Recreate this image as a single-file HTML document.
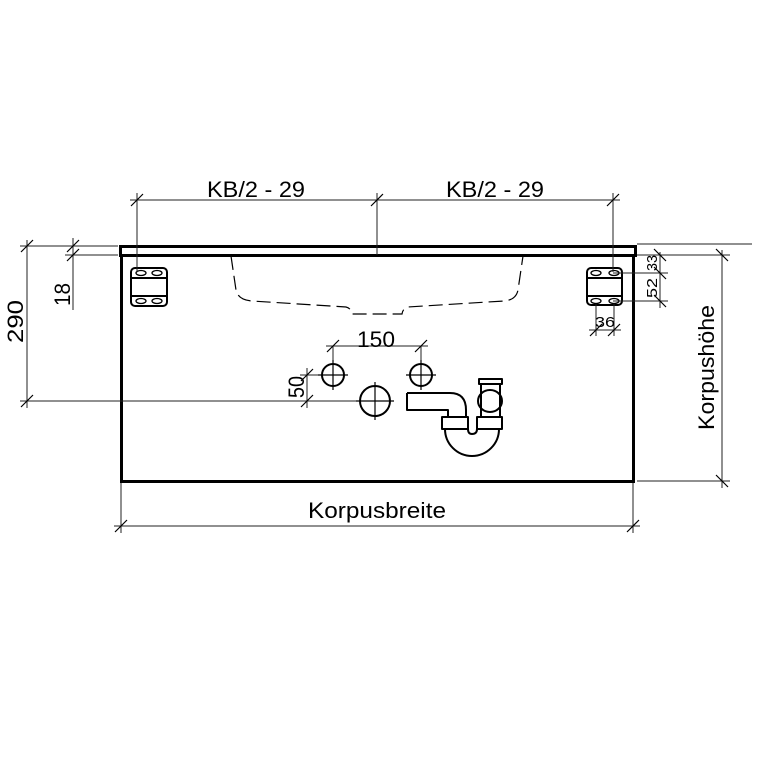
<!DOCTYPE html>
<html><head><meta charset="utf-8"><style>
html,body{margin:0;padding:0;background:#fff}
svg{display:block}
text{font-family:"Liberation Sans",sans-serif;fill:#000}
</style></head><body>
<svg width="769" height="769" viewBox="0 0 769 769" xmlns="http://www.w3.org/2000/svg">
<g fill="none" stroke="#000">
<rect x="120.5" y="246.5" width="515" height="9" stroke-width="3"/>
<path d="M121.5 255 V481.5 H633.5 V255" stroke-width="3"/>
<path d="M231 256 L236 290 Q238 300 252 301 L346 307 Q351 308 352 314 L402 314 Q403 308 408 307 L504 301 Q516 300 518 290 L523 256" stroke-width="1.2" stroke-dasharray="14,6"/>
<g stroke-width="2">
<rect x="131" y="268" width="36" height="38" rx="4"/>
<line x1="132" y1="278" x2="166" y2="278"/><line x1="132" y1="296" x2="166" y2="296"/>
<rect x="587" y="268" width="35" height="37" rx="4"/>
<line x1="588" y1="278" x2="621" y2="278"/><line x1="588" y1="296" x2="621" y2="296"/>
</g>
<g stroke-width="1.3">
<ellipse cx="141" cy="273" rx="5" ry="2.5"/><ellipse cx="157" cy="273" rx="5" ry="2.5"/>
<ellipse cx="141" cy="301" rx="5" ry="2.5"/><ellipse cx="157" cy="301" rx="5" ry="2.5"/>
<ellipse cx="596" cy="273" rx="5" ry="2.5"/><ellipse cx="614" cy="273" rx="5" ry="2.5"/>
<ellipse cx="596" cy="301" rx="5" ry="2.5"/><ellipse cx="614" cy="301" rx="5" ry="2.5"/>
</g>
<g stroke-width="1" stroke="#222">
<line x1="130" y1="200" x2="620" y2="200"/>
<line x1="137" y1="193" x2="137" y2="272"/>
<line x1="377" y1="193" x2="377" y2="255"/>
<line x1="613" y1="193" x2="613" y2="272"/>
<line x1="20" y1="246" x2="118" y2="246"/>
<line x1="20" y1="401" x2="362" y2="401"/>
<line x1="27" y1="240" x2="27" y2="408"/>
<line x1="65" y1="255" x2="118" y2="255"/>
<line x1="73" y1="238" x2="73" y2="310"/>
<line x1="637" y1="244" x2="752" y2="244"/>
<line x1="637" y1="255" x2="730" y2="255"/>
<line x1="637" y1="481" x2="730" y2="481"/>
<line x1="722" y1="250" x2="722" y2="488"/>
<line x1="613" y1="273" x2="668" y2="273"/>
<line x1="613" y1="301" x2="668" y2="301"/>
<line x1="660" y1="252" x2="660" y2="308"/>
<line x1="596" y1="304" x2="596" y2="336"/>
<line x1="614" y1="304" x2="614" y2="336"/>
<line x1="589" y1="330" x2="621" y2="330"/>
<line x1="121" y1="483" x2="121" y2="533"/>
<line x1="633" y1="483" x2="633" y2="533"/>
<line x1="114" y1="526" x2="640" y2="526"/>
<line x1="326" y1="346" x2="428" y2="346"/>
<line x1="333" y1="346" x2="333" y2="362"/>
<line x1="421" y1="346" x2="421" y2="362"/>
<line x1="300" y1="375" x2="320" y2="375"/>
<line x1="307" y1="368" x2="307" y2="408"/>
</g>
<g stroke-width="1.2" stroke="#000">
<path d="M131 206 L143 194 M371 206 L383 194 M607 206 L619 194
M21 252 L33 240 M21 407 L33 395 M67 252 L79 240 M67 261 L79 249
M716 249 L728 261 M716 475 L728 487 M654 249 L666 261 M654 267 L666 279 M654 295 L666 307
M590 336 L602 324 M608 336 L620 324 M115 532 L127 520 M627 532 L639 520
M327 352 L339 340 M415 352 L427 340 M301 381 L313 369 M301 407 L313 395"/>
</g>
<g stroke-width="2">
<circle cx="333" cy="375" r="11"/><circle cx="421" cy="375" r="11"/><circle cx="375" cy="401" r="15"/>
</g>
<g stroke-width="1.2">
<path d="M318 375 H348 M333 360 V390 M406 375 H436 M421 360 V390 M356 401 H394 M375 382 V420"/>
</g>
<g stroke-width="2" stroke-linejoin="round">
<path d="M407 393 H450 Q466 393 466 410 V417 M407 393 V410 H448 V417"/>
<rect x="442" y="417" width="26" height="12"/>
<rect x="477" y="417" width="25" height="12"/>
<path d="M445 429 A27 27 0 0 0 499 429"/>
<path d="M468 429 Q468 434 472 434 Q477 434 477 429"/>
<path d="M481 417 V383 M500 417 V383"/>
<rect x="479" y="379" width="23" height="5"/>
<ellipse cx="490" cy="401" rx="12" ry="11"/>
</g>
</g>
<g font-size="22">
<text x="207" y="197" textLength="98" lengthAdjust="spacingAndGlyphs">KB/2 - 29</text>
<text x="446" y="197" textLength="98" lengthAdjust="spacingAndGlyphs">KB/2 - 29</text>
<text x="308" y="518" textLength="138" lengthAdjust="spacingAndGlyphs">Korpusbreite</text>
<text x="357" y="347" textLength="38" lengthAdjust="spacingAndGlyphs">150</text>
<text transform="translate(23,343) rotate(-90)" textLength="43" lengthAdjust="spacingAndGlyphs">290</text>
<text transform="translate(70,306) rotate(-90)" textLength="23" lengthAdjust="spacingAndGlyphs">18</text>
<text transform="translate(714,430) rotate(-90)" textLength="125" lengthAdjust="spacingAndGlyphs">Korpushöhe</text>
<text transform="translate(304,398) rotate(-90)" textLength="22" lengthAdjust="spacingAndGlyphs">50</text>
</g>
<g font-size="15">
<text transform="translate(657,271) rotate(-90)" textLength="16" lengthAdjust="spacingAndGlyphs">33</text>
<text transform="translate(657,298) rotate(-90)" textLength="20" lengthAdjust="spacingAndGlyphs">52</text>
<text x="595" y="327" textLength="20" lengthAdjust="spacingAndGlyphs">36</text>
</g>
</svg>
</body></html>
